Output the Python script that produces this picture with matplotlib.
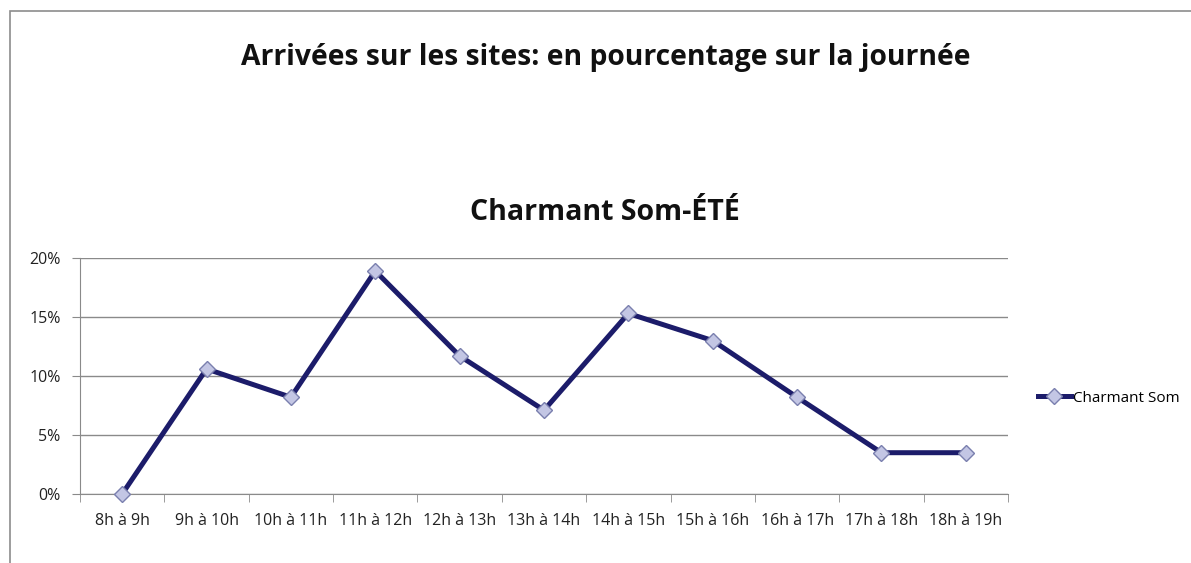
import matplotlib
matplotlib.use("Agg")
import matplotlib.pyplot as plt
import numpy as np
from matplotlib.patches import Rectangle

plt.rcParams['font.family'] = ['Open Sans', 'DejaVu Sans']

# data
categories = ["8h à 9h", "9h à 10h", "10h à 11h", "11h à 12h", "12h à 13h", "13h à 14h",
              "14h à 15h", "15h à 16h", "16h à 17h", "17h à 18h", "18h à 19h"]
charmant_som = [0.0, 10.6, 8.2, 18.9, 11.7, 7.1, 15.3, 13.0, 8.2, 3.5, 3.5]
yticks = [0, 5, 10, 15, 20]

fig = plt.figure(figsize=(11.91, 5.63), dpi=100)
# outer chart frame
fig.patches.append(Rectangle((10/1191, -0.01), 1.1, (563-11)/563 + 0.01, transform=fig.transFigure,
                             fill=False, edgecolor="#8c8c8c", linewidth=1.2))

ax = fig.add_axes([80/1191, (563-494)/563, (1008-80)/1191, (494-258)/563])
x = np.arange(len(categories))
ax.plot(x, charmant_som, color="#1c1c6a", linewidth=3.6, marker="D", markersize=8,
        markerfacecolor="#c3c6e4", markeredgecolor="#7a7fae", markeredgewidth=1, label="Charmant Som",
        zorder=3, clip_on=False)

ax.set_xlim(-0.5, len(categories) - 0.5)
ax.set_ylim(0, 20)
ax.set_yticks(yticks)
ax.set_yticklabels([f"{v}%" for v in yticks])
ax.yaxis.grid(True, color="#8a8a8a", linewidth=1)
ax.set_axisbelow(True)

ax.set_xticks(x)
ax.set_xticklabels(categories)
ax.set_xticks(np.arange(-0.5, len(categories)), minor=True)
ax.tick_params(axis="x", which="major", length=0, pad=14, labelsize=11.5, colors="#222222")
ax.tick_params(axis="x", which="minor", length=6, color="#8a8a8a")
ax.tick_params(axis="y", length=6, color="#8a8a8a", labelsize=11.5, pad=8, labelcolor="#222222")

for s in ["top", "right"]:
    ax.spines[s].set_visible(False)
ax.spines["left"].set_color("#8a8a8a")
ax.spines["bottom"].set_color("#8a8a8a")

fig.text(0.509, 1 - 58/563, "Arrivées sur les sites: en pourcentage sur la journée",
         ha="center", va="center", fontsize=20.3, fontweight="bold", color="#111111")
fig.text(0.508, 1 - 212/563, "Charmant Som-ÉTÉ",
         ha="center", va="center", fontsize=20.5, fontweight="bold", color="#111111")

fig.legend(loc="center left", bbox_to_anchor=(1030/1191, 1 - 398/563), frameon=False,
           fontsize=11, handlelength=2.2, handletextpad=0.1, borderpad=0)

fig.savefig("out.png", dpi=100, facecolor="white")
